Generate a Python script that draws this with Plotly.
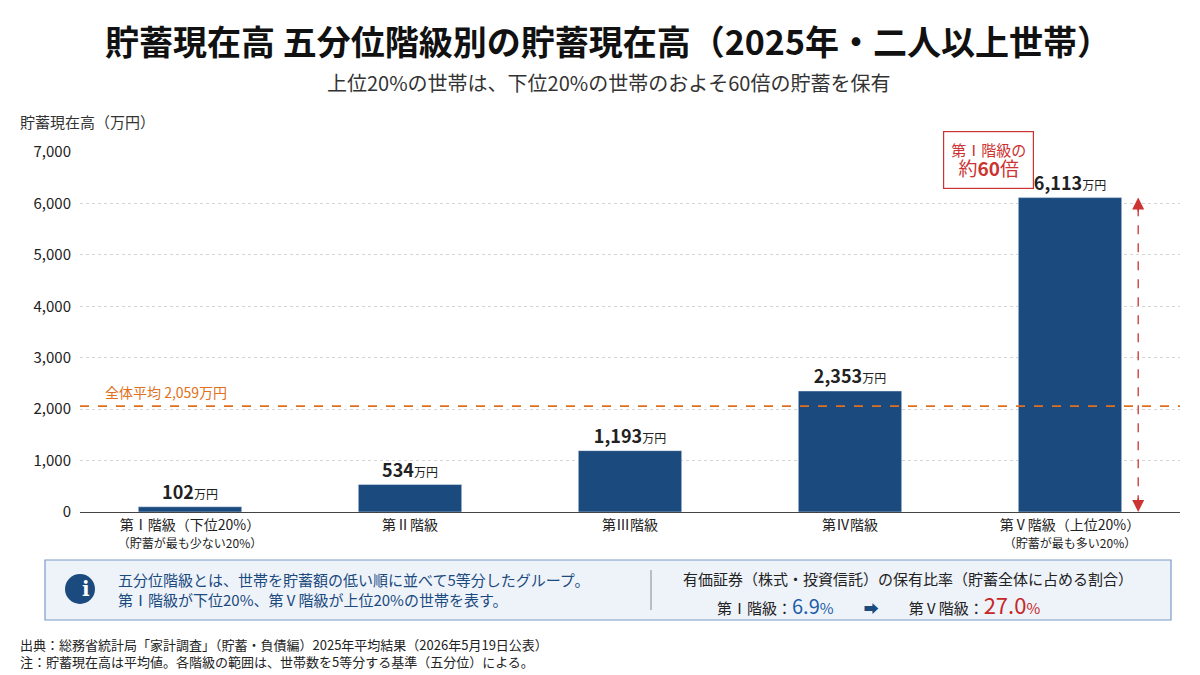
import plotly.graph_objects as go

categories = ["第Ⅰ階級（下位20%）<br><span style='font-size:12px'>（貯蓄が最も少ない20%）</span>",
              "第Ⅱ階級", "第Ⅲ階級", "第Ⅳ階級",
              "第Ⅴ階級（上位20%）<br><span style='font-size:12px'>（貯蓄が最も多い20%）</span>"]
savings = [102, 534, 1193, 2353, 6113]
average = 2059
y_ticks = [0, 1000, 2000, 3000, 4000, 5000, 6000, 7000]

FONT = "Noto Sans CJK JP"
NAVY = "#1b4a7e"
W, H = 1200, 675

def px(x, y):
    return x / W, 1 - y / H

def note(x, y, text, size, color="#222", xanchor="center", **kw):
    fx, fy = px(x, y)
    fig.add_annotation(x=fx, y=fy, xref="paper", yref="paper", showarrow=False,
                       xanchor=xanchor, yanchor="middle", text=text,
                       font=dict(size=size, color=color), **kw)

fig = go.Figure()
fig.add_trace(go.Bar(
    x=categories, y=savings, width=0.47, marker_color=NAVY,
    text=[f"<b>{v:,}</b><span style='font-size:12px'>万円</span>" for v in savings],
    textposition="outside", textfont=dict(size=18, color="#222"),
    cliponaxis=False, hoverinfo="skip"))

fig.add_hline(y=average, line=dict(color="#e07020", width=1.6, dash="dash"))
fig.add_annotation(x=0, xref="paper", y=average, yref="y", xanchor="left", yanchor="bottom",
                   text=f"全体平均 {average:,}万円", showarrow=False, xshift=95, yshift=2,
                   font=dict(size=14, color="#e07020"))

# double-headed dashed arrow next to the top bar
fig.add_shape(type="line", x0=4.31, x1=4.31, y0=150, y1=savings[4] - 150, xref="x", yref="y",
              line=dict(color="#cc3333", width=1.3, dash="dash"))
fig.add_annotation(x=4.31, y=savings[4], ax=4.31, ay=savings[4] - 300, xref="x", yref="y",
                   axref="x", ayref="y", showarrow=True, arrowhead=2, arrowsize=1.6,
                   arrowwidth=1.5, arrowcolor="#cc3333", text="")
fig.add_annotation(x=4.31, y=0, ax=4.31, ay=300, xref="x", yref="y",
                   axref="x", ayref="y", showarrow=True, arrowhead=2, arrowsize=1.6,
                   arrowwidth=1.5, arrowcolor="#cc3333", text="")

# callout
fig.add_annotation(x=3.63, y=6850, xref="x", yref="y", showarrow=False, yanchor="middle",
                   text="第Ⅰ階級の<br><span style='font-size:19px'>約<b>60</b>倍</span>",
                   font=dict(size=15, color="#cc3333"), bgcolor="white",
                   bordercolor="#cc3333", borderwidth=1.2, borderpad=7, align="center")

# titles
note(600, 32, "<b>貯蓄現在高 五分位階級別の貯蓄現在高（2025年・二人以上世帯）</b>", 34, "#111")
note(600, 74, "上位20%の世帯は、下位20%の世帯のおよそ60倍の貯蓄を保有", 20, "#333")
note(10, 113, "貯蓄現在高（万円）", 15, "#333", xanchor="left")

# info box
x0, y0 = px(37, 552)
x1, y1 = px(1163, 612)
fig.add_shape(type="rect", xref="paper", yref="paper", x0=x0, x1=x1, y0=y1, y1=y0,
              line=dict(color="#7a9cc6", width=1.2), fillcolor="#eef3fa")
cx0, cy0 = px(57, 566)
cx1, cy1 = px(87, 596)
fig.add_shape(type="circle", xref="paper", yref="paper", x0=cx0, x1=cx1, y0=cy1, y1=cy0,
              line=dict(width=0), fillcolor=NAVY)
note(72, 581, "<b>i</b>", 20, "white", font_family="DejaVu Serif") if False else None
fig.add_annotation(x=px(72, 0)[0], y=px(0, 581)[1], xref="paper", yref="paper", showarrow=False,
                   yanchor="middle", text="<b>i</b>", font=dict(size=20, color="white", family="DejaVu Serif"))
note(108, 581, "五分位階級とは、世帯を貯蓄額の低い順に並べて5等分したグループ。<br>第Ⅰ階級が下位20%、第Ⅴ階級が上位20%の世帯を表す。",
     15, NAVY, xanchor="left", align="left")
dx, dy0 = px(643, 562)
_, dy1 = px(0, 602)
fig.add_shape(type="line", xref="paper", yref="paper", x0=dx, x1=dx, y0=dy1, y1=dy0,
              line=dict(color="#888", width=1))
note(900, 570, "有価証券（株式・投資信託）の保有比率（貯蓄全体に占める割合）", 15)
note(870, 596, "第Ⅰ階級：<span style='color:#1f5fa8;font-size:20px'>6.9</span><span style='color:#1f5fa8'>%</span>"
     "　　<span style='color:" + NAVY + "'>➡</span>　　第Ⅴ階級：<span style='color:#c62828;font-size:22px'>27.0</span><span style='color:#c62828'>%</span>",
     15)

# footnotes
note(10, 645, "出典：総務省統計局「家計調査」（貯蓄・負債編）2025年平均結果（2026年5月19日公表）<br>注：貯蓄現在高は平均値。各階級の範囲は、世帯数を5等分する基準（五分位）による。",
     13, xanchor="left", align="left")

fig.update_layout(
    width=W, height=H, margin=dict(l=0, r=0, t=0, b=0, autoexpand=False),
    paper_bgcolor="white", plot_bgcolor="white",
    font=dict(family=FONT, color="#222"), showlegend=False,
    xaxis=dict(domain=[72 / W, 1172 / W], showline=True, linecolor="#444",
               tickfont=dict(size=14), ticks="", automargin=False),
    yaxis=dict(domain=[1 - 504 / H, 1 - 144 / H], range=[0, 7000], tickvals=y_ticks,
               tickformat=",", tickfont=dict(size=15), showgrid=True,
               gridcolor="#d5d5d5", griddash="dot", zeroline=False,
               showline=False, ticklabelstandoff=8, automargin=False),
)

fig.write_html("out.html")
